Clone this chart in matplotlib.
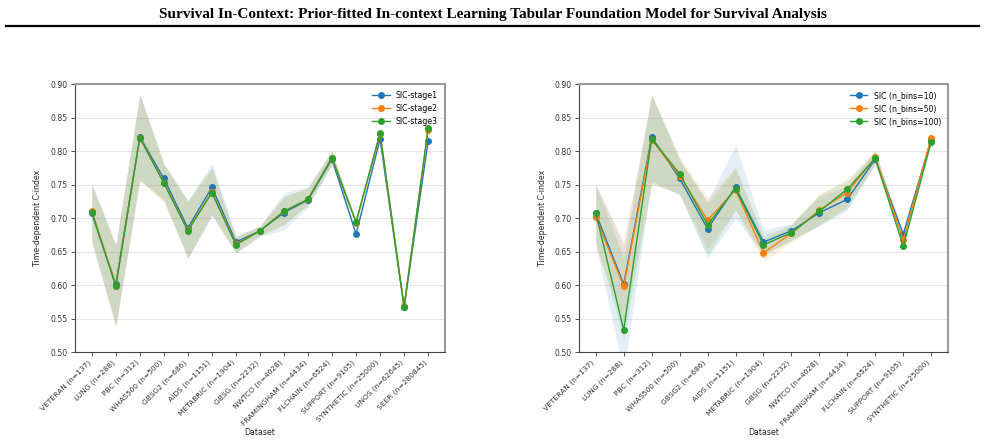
"""Time-dependent C-index across datasets for SIC variants."""
import matplotlib
matplotlib.use("Agg")
import matplotlib.pyplot as plt
import numpy as np

# ---- left panel: training stages ----
datasets_left = [
    "VETERAN (n=137)", "LUNG (n=288)", "PBC (n=312)", "WHAS500 (n=500)",
    "GBSG2 (n=686)", "AIDS (n=1151)", "METABRIC (n=1904)", "GBSG (n=2232)",
    "NWTCO (n=4028)", "FRAMINGHAM (n=4434)", "FLCHAIN (n=6524)",
    "SUPPORT (n=9105)", "SYNTHETIC (n=25000)", "UNOS (n=62645)",
    "SEER (n=280845)",
]
stage_labels = ["SIC-stage1", "SIC-stage2", "SIC-stage3"]
stage1 = [0.707, 0.601, 0.821, 0.759, 0.685, 0.746, 0.664, 0.681, 0.708,
          0.727, 0.788, 0.676, 0.818, 0.567, 0.815]
stage2 = [0.711, 0.599, 0.820, 0.753, 0.682, 0.739, 0.661, 0.681, 0.710,
          0.728, 0.790, 0.693, 0.826, 0.568, 0.832]
stage3 = [0.709, 0.598, 0.820, 0.752, 0.681, 0.738, 0.660, 0.681, 0.710,
          0.728, 0.790, 0.694, 0.827, 0.567, 0.834]
stage1_lo = [0.662, 0.540, 0.757, 0.728, 0.640, 0.703, 0.648, 0.672, 0.682,
             0.716, 0.779, 0.673, 0.815, 0.565, 0.812]
stage1_hi = [0.752, 0.660, 0.885, 0.782, 0.727, 0.782, 0.674, 0.688, 0.738,
             0.747, 0.801, 0.679, 0.821, 0.569, 0.818]
stage2_lo = [0.666, 0.538, 0.755, 0.724, 0.640, 0.705, 0.648, 0.674, 0.690,
             0.720, 0.780, 0.690, 0.823, 0.566, 0.829]
stage2_hi = [0.750, 0.660, 0.884, 0.780, 0.725, 0.775, 0.672, 0.688, 0.732,
             0.745, 0.800, 0.696, 0.829, 0.570, 0.835]
stage3_lo = [0.666, 0.538, 0.757, 0.725, 0.640, 0.705, 0.648, 0.674, 0.690,
             0.720, 0.780, 0.691, 0.824, 0.565, 0.831]
stage3_hi = [0.750, 0.660, 0.884, 0.780, 0.725, 0.775, 0.672, 0.688, 0.732,
             0.745, 0.800, 0.697, 0.830, 0.569, 0.837]

# ---- right panel: number of bins ----
datasets_right = datasets_left[:13]
bins_labels = ["SIC (n_bins=10)", "SIC (n_bins=50)", "SIC (n_bins=100)"]
bins10 = [0.707, 0.601, 0.821, 0.759, 0.684, 0.746, 0.664, 0.681, 0.708,
          0.728, 0.788, 0.676, 0.817]
bins50 = [0.701, 0.598, 0.817, 0.763, 0.697, 0.742, 0.648, 0.677, 0.712,
          0.738, 0.791, 0.667, 0.820]
bins100 = [0.708, 0.533, 0.818, 0.766, 0.690, 0.744, 0.660, 0.678, 0.710,
           0.743, 0.789, 0.658, 0.814]
bins10_lo = [0.660, 0.470, 0.755, 0.735, 0.640, 0.700, 0.645, 0.668, 0.688,
             0.712, 0.780, 0.672, 0.814]
bins10_hi = [0.752, 0.660, 0.885, 0.785, 0.725, 0.810, 0.682, 0.692, 0.732,
             0.748, 0.800, 0.680, 0.820]
bins50_lo = [0.655, 0.545, 0.750, 0.737, 0.655, 0.712, 0.635, 0.664, 0.690,
             0.718, 0.782, 0.663, 0.817]
bins50_hi = [0.748, 0.665, 0.884, 0.790, 0.730, 0.775, 0.668, 0.690, 0.736,
             0.755, 0.801, 0.671, 0.823]
bins100_lo = [0.665, 0.520, 0.752, 0.735, 0.645, 0.712, 0.645, 0.666, 0.690,
              0.715, 0.780, 0.654, 0.811]
bins100_hi = [0.750, 0.640, 0.884, 0.790, 0.722, 0.775, 0.674, 0.690, 0.735,
              0.758, 0.800, 0.662, 0.817]

COLORS = ["#1f77b4", "#ff7f0e", "#2ca02c"]
FS = 5.6


def _panel(ax, names, series, lows, highs, labels):
    x = np.arange(len(names))
    for i, (s, lo, hi, lab) in enumerate(zip(series, lows, highs, labels)):
        ax.fill_between(x, lo, hi, color=COLORS[i], alpha=0.12, linewidth=0)
        ax.plot(x, s, marker="o", markersize=4, linewidth=1,
                color=COLORS[i], label=lab)
    ax.set_ylim(0.50, 0.90)
    ax.set_yticks(np.arange(0.50, 0.901, 0.05))
    ax.set_xticks(x)
    ax.set_xticklabels(names, rotation=45, ha="right")
    ax.tick_params(axis="x", labelsize=5.4, colors="#333333", length=3,
                   width=0.6, pad=2)
    ax.tick_params(axis="y", labelsize=FS, colors="#333333", length=3,
                   width=0.6, pad=2)
    ax.grid(axis="y", color="#e6e6e6", linewidth=0.8)
    ax.set_axisbelow(True)
    for side in ("top", "right"):
        ax.spines[side].set_color("#999999")
        ax.spines[side].set_linewidth(1.5)
    for side in ("left", "bottom"):
        ax.spines[side].set_color("#444444")
        ax.spines[side].set_linewidth(0.8)
    ax.set_xlabel("Dataset", fontsize=FS, color="#222222")
    ax.xaxis.set_label_coords(0.5, -0.285)
    ax.set_ylabel("Time-dependent C-index", fontsize=FS, color="#222222")
    ax.yaxis.set_label_coords(-0.088, 0.5)
    ax.legend(loc="upper right", frameon=False, fontsize=FS,
              handlelength=2.2)


fig = plt.figure(figsize=(9.85, 4.4), dpi=100)
fig.text(0.5, 0.968, "Survival In-Context: Prior-fitted In-context Learning "
         "Tabular Foundation Model for Survival Analysis",
         ha="center", va="center", fontsize=11, fontweight="bold",
         family="Liberation Serif")
fig.add_artist(plt.Line2D([0.006, 0.994], [0.94, 0.94], color="black",
                          linewidth=1.6))

ax1 = fig.add_axes([0.0761, 0.2, 0.3756, 0.609])
_panel(ax1, datasets_left, [stage1, stage2, stage3],
       [stage1_lo, stage2_lo, stage3_lo], [stage1_hi, stage2_hi, stage3_hi],
       stage_labels)

ax2 = fig.add_axes([0.5878, 0.2, 0.3746, 0.609])
_panel(ax2, datasets_right, [bins10, bins50, bins100],
       [bins10_lo, bins50_lo, bins100_lo], [bins10_hi, bins50_hi, bins100_hi],
       bins_labels)

fig.savefig("out.png", dpi=100)
